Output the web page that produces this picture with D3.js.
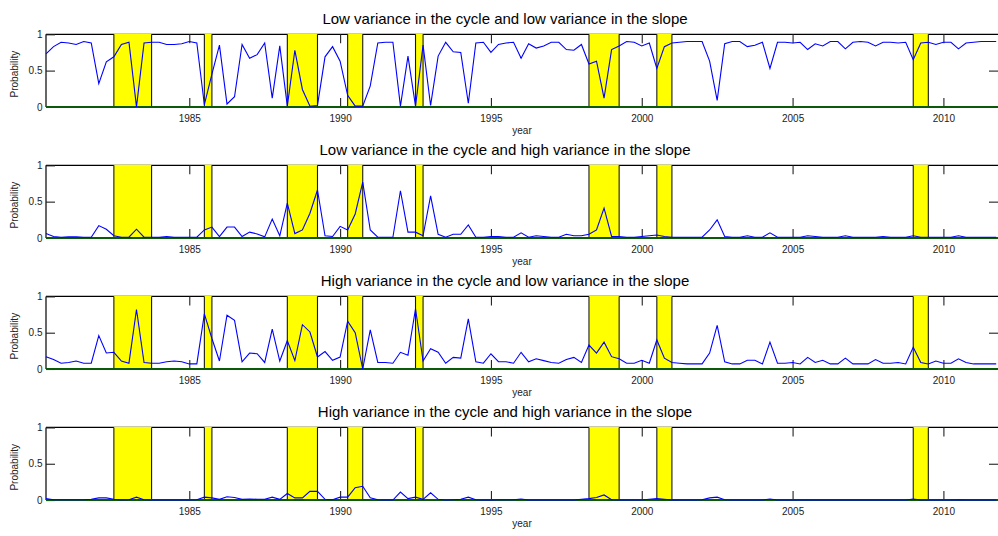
<!DOCTYPE html>
<html>
<head>
<meta charset="utf-8">
<script src="https://cdn.jsdelivr.net/npm/d3@7"></script>
<style>
html,body{margin:0;padding:0;background:#fff;}
svg{display:block;font-family:"Liberation Sans",Arial,sans-serif;}
</style>
</head>
<body>
<svg id="chart" width="998" height="536"></svg>
<script>
// ---- data ----
const startQuarter = 1980.25;   // first observation (quarterly)
const titles = [
  "Low variance in the cycle and low variance in the slope",
  "Low variance in the cycle and high variance in the slope",
  "High variance in the cycle and low variance in the slope",
  "High variance in the cycle and high variance in the slope"
];
const yearTicks = [1985, 1990, 1995, 2000, 2005, 2010];
const probTicks = [0, 0.5, 1];
const recessions = [
  [1982.5, 1983.75], [1985.5, 1985.75], [1988.25, 1989.25], [1990.25, 1990.75],
  [1992.5, 1992.75], [1998.25, 1999.25], [2000.5, 2001.0], [2009.0, 2009.5]
];
const lowCycleLowSlope = [
  0.73,0.83,0.89,0.88,0.86,0.90,0.88,0.32,0.62,0.69,
  0.86,0.89,0.00,0.88,0.89,0.89,0.86,0.86,0.87,0.90,
  0.88,0.03,0.45,0.85,0.04,0.14,0.86,0.67,0.72,0.88,
  0.12,0.84,0.01,0.78,0.24,0.01,0.02,0.69,0.83,0.63,
  0.16,0.01,0.01,0.29,0.88,0.89,0.89,0.01,0.70,0.01,
  0.85,0.02,0.70,0.89,0.76,0.75,0.05,0.88,0.89,0.75,
  0.86,0.88,0.89,0.67,0.87,0.81,0.84,0.89,0.89,0.79,
  0.78,0.86,0.59,0.63,0.12,0.79,0.84,0.90,0.89,0.84,
  0.88,0.53,0.83,0.88,0.89,0.90,0.90,0.90,0.63,0.09,
  0.87,0.90,0.90,0.83,0.85,0.89,0.53,0.89,0.89,0.88,
  0.89,0.79,0.87,0.84,0.90,0.90,0.80,0.89,0.90,0.89,
  0.84,0.89,0.89,0.88,0.89,0.65,0.88,0.89,0.86,0.89,
  0.89,0.80,0.88,0.89,0.90,0.90,0.90
];
const lowCycleHighSlope = [
  0.06,0.02,0.01,0.015,0.015,0.01,0.01,0.17,0.12,0.03,
  0.01,0.01,0.12,0.01,0.01,0.01,0.02,0.01,0.01,0.01,
  0.01,0.11,0.15,0.02,0.15,0.15,0.02,0.08,0.055,0.015,
  0.26,0.03,0.48,0.06,0.11,0.34,0.66,0.03,0.02,0.16,
  0.11,0.33,0.77,0.11,0.01,0.01,0.01,0.65,0.08,0.08,
  0.03,0.58,0.05,0.01,0.05,0.05,0.18,0.01,0.01,0.02,
  0.02,0.01,0.01,0.07,0.01,0.03,0.02,0.01,0.01,0.05,
  0.03,0.03,0.05,0.11,0.41,0.02,0.02,0.01,0.01,0.02,
  0.03,0.04,0.02,0.01,0.01,0.01,0.01,0.01,0.11,0.25,
  0.02,0.01,0.01,0.03,0.01,0.01,0.07,0.01,0.01,0.01,
  0.01,0.03,0.02,0.01,0.01,0.01,0.03,0.01,0.01,0.01,
  0.01,0.02,0.01,0.01,0.01,0.03,0.01,0.01,0.01,0.01,
  0.01,0.03,0.01,0.01,0.01,0.01,0.01
];
const highCycleLowSlope = [
  0.17,0.13,0.08,0.09,0.11,0.08,0.08,0.46,0.22,0.23,
  0.11,0.08,0.82,0.09,0.08,0.08,0.10,0.11,0.10,0.07,
  0.07,0.76,0.42,0.11,0.74,0.67,0.10,0.22,0.21,0.09,
  0.55,0.11,0.39,0.115,0.61,0.51,0.165,0.24,0.12,0.165,
  0.66,0.50,0.00,0.54,0.09,0.09,0.08,0.23,0.19,0.83,
  0.11,0.28,0.23,0.08,0.16,0.15,0.69,0.10,0.08,0.21,
  0.10,0.10,0.08,0.23,0.10,0.14,0.115,0.09,0.08,0.13,
  0.16,0.09,0.33,0.22,0.37,0.17,0.14,0.08,0.08,0.12,
  0.08,0.40,0.15,0.09,0.08,0.07,0.07,0.07,0.22,0.60,
  0.10,0.07,0.07,0.12,0.12,0.07,0.37,0.08,0.08,0.09,
  0.07,0.16,0.09,0.12,0.07,0.07,0.15,0.07,0.07,0.07,
  0.13,0.08,0.08,0.09,0.07,0.30,0.09,0.07,0.11,0.08,
  0.08,0.14,0.09,0.07,0.07,0.07,0.07
];
const highCycleHighSlope = [
  0.02,0.005,0.005,0.005,0.005,0.005,0.01,0.03,0.03,0.01,
  0.0,0.005,0.04,0.005,0,0,0,0,0,0,
  0.005,0.04,0.03,0.01,0.045,0.035,0.01,0.015,0.01,0.01,
  0.04,0.01,0.09,0.03,0.03,0.12,0.12,0.01,0.005,0.04,
  0.04,0.17,0.19,0.03,0.005,0,0,0.11,0.02,0.04,
  0.01,0.10,0.01,0,0.005,0.01,0.04,0.005,0,0,
  0.005,0.005,0.005,0.015,0,0,0,0,0,0,
  0,0.01,0.02,0.035,0.07,0.005,0,0,0,0,
  0.01,0.02,0.01,0,0,0,0,0.005,0.03,0.04,
  0.005,0,0,0,0,0,0.015,0,0,0,
  0,0,0,0,0,0,0,0,0,0,
  0,0,0,0,0,0.015,0,0,0,0,
  0,0.005,0,0,0,0,0
];
const seriesList = [lowCycleLowSlope, lowCycleHighSlope, highCycleLowSlope, highCycleHighSlope];

// ---- layout ----
const svg = d3.select("#chart");
const left = 46, right = 998;
const panelTop0 = 34.3, panelStep = 131.05, panelH = 72.6;
const x = d3.scaleLinear().domain([1980.25, 2011.81]).range([left, right]);
const dates = lowCycleLowSlope.map((_, i) => startQuarter + i * 0.25);

svg.append("rect").attr("width", 998).attr("height", 536).attr("fill", "#fff");

seriesList.forEach((vals, k) => {
  const top = panelTop0 + panelStep * k;
  const bottom = top + panelH;
  const y = d3.scaleLinear().domain([0, 1]).range([bottom, top]);
  const g = svg.append("g");

  // box (top + left)
  g.append("line").attr("x1", left).attr("x2", right + 2).attr("y1", y(1)).attr("y2", y(1))
    .attr("stroke", "#000").attr("stroke-width", 1.2);
  g.append("line").attr("x1", left).attr("x2", left).attr("y1", y(1)).attr("y2", y(0))
    .attr("stroke", "#000").attr("stroke-width", 1.2);

  // ticks inward
  const xb = d3.axisBottom(x).tickValues(yearTicks).tickSize(-9).tickPadding(7.6).tickFormat(d3.format("d"));
  const gxb = g.append("g").attr("transform", `translate(0,${bottom})`).call(xb);
  const xt = d3.axisTop(x).tickValues(yearTicks).tickSize(-9).tickFormat("");
  const gxt = g.append("g").attr("transform", `translate(0,${top})`).call(xt);
  const yl = d3.axisLeft(y).tickValues(probTicks).tickSize(-9).tickPadding(3.5).tickFormat(d3.format("~g"));
  const gyl = g.append("g").attr("transform", `translate(${left},0)`).call(yl);
  const yr = d3.axisRight(y).tickValues([0.5]).tickSize(-9).tickFormat("");
  const gyr = g.append("g").attr("transform", `translate(${right},0)`).call(yr);
  [gxb, gxt, gyl, gyr].forEach(a => {
    a.select(".domain").remove();
    a.selectAll(".tick line").attr("stroke", "#222").attr("stroke-width", 1.1);
    a.selectAll("text").attr("font-size", 10).attr("fill", "#222")
      .attr("font-family", '"Liberation Sans",Arial,sans-serif');
  });

  // recession bands
  const bands = g.append("g").selectAll("g").data(recessions).join("g");
  bands.append("rect")
    .attr("x", d => x(d[0])).attr("width", d => x(d[1]) - x(d[0]))
    .attr("y", y(1) - 0.6).attr("height", y(0) - y(1) + 0.6)
    .attr("fill", "#ffff00");
  bands.selectAll("line").data(d => d).join("line")
    .attr("x1", d => x(d)).attr("x2", d => x(d))
    .attr("y1", y(1)).attr("y2", y(0))
    .attr("stroke", "#1a1a1a").attr("stroke-width", 1.1);

  // zero line
  g.append("line").attr("x1", left).attr("x2", right + 2).attr("y1", y(0)).attr("y2", y(0))
    .attr("stroke", "#0a5a0a").attr("stroke-width", 2);

  // probability line
  const line = d3.line().x((d, i) => x(dates[i])).y(d => y(d));
  g.append("path").datum(vals).attr("d", line)
    .attr("fill", "none").attr("stroke", "#0000ff").attr("stroke-width", 1.1);

  // title
  g.append("text").attr("x", 505).attr("y", top - 10).attr("text-anchor", "middle")
    .attr("font-size", 15).attr("fill", "#000").text(titles[k]);
  // x label
  g.append("text").attr("x", 522).attr("y", bottom + 27).attr("text-anchor", "middle")
    .attr("font-size", 10).attr("fill", "#222").text("year");
  // y label
  g.append("text").attr("transform", `translate(17.5,${(top + bottom) / 2 + 3.5}) rotate(-90)`)
    .attr("text-anchor", "middle").attr("font-size", 10).attr("fill", "#222").text("Probability");
});
</script>
</body>
</html>
